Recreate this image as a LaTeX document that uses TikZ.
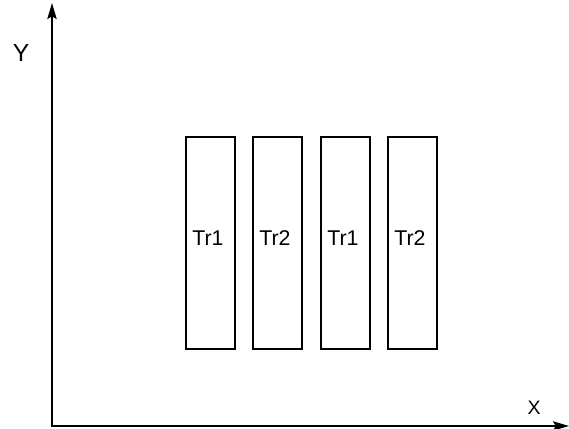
\documentclass[tikz,border=0pt]{standalone}
\usepackage{fontspec}
\setmainfont{Liberation Sans}
\usetikzlibrary{arrows.meta}
\begin{document}
\begin{tikzpicture}[x=0.75pt,y=-0.75pt,
  axis/.style={line width=1.3pt,-{Stealth[length=12pt,width=7pt,inset=2pt]}},
  trbox/.style={draw,line width=0.9pt,rectangle,inner sep=0pt,minimum width=49*0.75pt,minimum height=212*0.75pt},
  trlabel/.style={anchor=base,inner sep=0pt,font=\fontsize{16}{19}\selectfont},
  axlabel/.style={anchor=base,inner sep=0pt}]
\useasboundingbox (0,0) rectangle (569,429);
\coordinate (o) at (52,426);
\coordinate (ytop) at (52,3);
\coordinate (xend) at (569,426);
\draw[axis] (o) -- (ytop);
\draw[axis] ([xshift=-0.65pt]o) -- (xend);
\node[axlabel,font=\fontsize{18.5}{22}\selectfont] (ylab) at (21,61) {Y};
\node[axlabel,font=\fontsize{14.6}{18}\selectfont] (xlab) at (534,414) {X};
\node[trbox] (b1) at (210.5,243) {};
\node[trbox] (b2) at (277.5,243) {};
\node[trbox] (b3) at (345.5,243) {};
\node[trbox] (b4) at (412.5,243) {};
\node[trlabel] (t1) at (208,245) {Tr1};
\node[trlabel] (t2) at (275,245) {Tr2};
\node[trlabel] (t3) at (343,245) {Tr1};
\node[trlabel] (t4) at (410,245) {Tr2};
\end{tikzpicture}
\end{document}
